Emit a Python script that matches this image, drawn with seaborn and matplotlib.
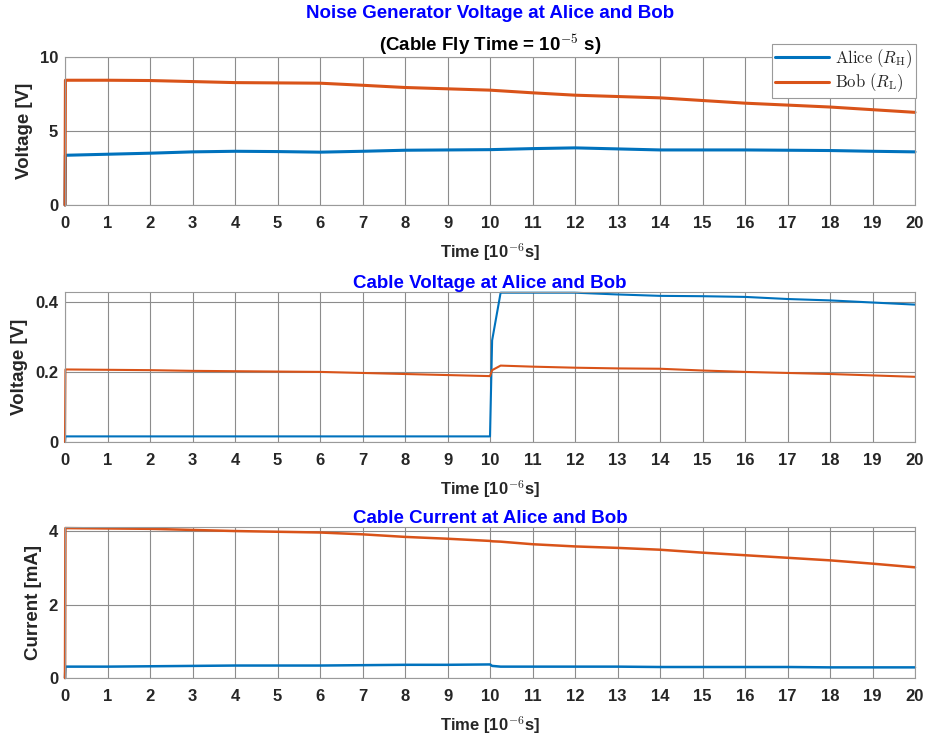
import matplotlib
matplotlib.use("Agg")
import matplotlib.pyplot as plt
import numpy as np
import pandas as pd
import seaborn as sns

sns.set_theme(style="whitegrid")
plt.rcParams['font.family'] = ['Liberation Sans', 'DejaVu Sans']
plt.rcParams['mathtext.fontset'] = 'cm'

# time axis in units of 1e-6 s
t_gen = [0, 0.01, 1, 2, 3, 4, 5, 6, 7, 8, 9, 10, 11, 12, 13, 14, 15, 16, 17, 18, 19, 20]
gen_alice = [0, 3.36, 3.43, 3.50, 3.59, 3.63, 3.61, 3.57, 3.63, 3.70, 3.72, 3.74,
             3.81, 3.86, 3.79, 3.72, 3.72, 3.72, 3.70, 3.68, 3.63, 3.59]
gen_bob = [0, 8.43, 8.43, 8.41, 8.34, 8.27, 8.25, 8.23, 8.09, 7.94, 7.85, 7.76,
           7.58, 7.42, 7.33, 7.24, 7.06, 6.88, 6.75, 6.62, 6.44, 6.26]

t_cable = [0, 0.01, 1, 2, 3, 4, 5, 6, 7, 8, 9, 10, 10.05, 10.25,
           11, 12, 13, 14, 15, 16, 17, 18, 19, 20]
volt_alice = [0, 0.016, 0.016, 0.016, 0.016, 0.016, 0.016, 0.016, 0.016, 0.016, 0.016, 0.016,
              0.29, 0.426, 0.426, 0.426, 0.421, 0.417, 0.416, 0.414, 0.408, 0.404, 0.398, 0.392]
volt_bob = [0, 0.207, 0.206, 0.205, 0.203, 0.202, 0.201, 0.200, 0.197, 0.194, 0.191, 0.188,
            0.205, 0.218, 0.215, 0.212, 0.210, 0.209, 0.204, 0.200, 0.197, 0.194, 0.190, 0.186]
curr_alice = [0, 0.31, 0.31, 0.32, 0.33, 0.34, 0.34, 0.34, 0.35, 0.36, 0.36, 0.37,
              0.33, 0.31, 0.31, 0.31, 0.31, 0.30, 0.30, 0.30, 0.30, 0.29, 0.29, 0.29]
curr_bob = [0, 4.09, 4.08, 4.07, 4.04, 4.01, 3.99, 3.97, 3.92, 3.85, 3.80, 3.74,
            3.73, 3.72, 3.65, 3.59, 3.55, 3.50, 3.42, 3.35, 3.28, 3.21, 3.12, 3.02]

colors = {"Alice": "#0072BD", "Bob": "#D95319"}
legend_labels = [r'$\mathrm{Alice}\ (R_{\mathrm{H}})$', r'$\mathrm{Bob}\ (R_{\mathrm{L}})$']


def to_frame(t, alice, bob):
    return pd.DataFrame({
        "time": list(t) + list(t),
        "value": list(alice) + list(bob),
        "who": ["Alice"] * len(t) + ["Bob"] * len(t),
    })


fig = plt.figure(figsize=(9.25, 7.36), dpi=100)
W, H = 925, 736
def px_axes(left, top, right, bottom):
    return fig.add_axes([left / W, 1 - bottom / H, (right - left) / W, (bottom - top) / H])

ax1 = px_axes(65, 57, 915, 205)
ax2 = px_axes(65, 292, 915, 442)
ax3 = px_axes(65, 527, 915, 678)

panels = [
    (ax1, to_frame(t_gen, gen_alice, gen_bob), 2.2, "Voltage [V]", [0, 5, 10], (0, 10), None),
    (ax2, to_frame(t_cable, volt_alice, volt_bob), 1.5, "Voltage [V]", [0, 0.2, 0.4],
     (0, 0.428), "Cable Voltage at Alice and Bob"),
    (ax3, to_frame(t_cable, curr_alice, curr_bob), 1.8, "Current [mA]", [0, 2, 4],
     (0, 4.12), "Cable Current at Alice and Bob"),
]

for ax, df, lw, ylab, yticks, ylim, title in panels:
    sns.lineplot(data=df, x="time", y="value", hue="who", palette=colors,
                 estimator=None, sort=False, linewidth=lw, ax=ax, legend=(ax is ax1),
                 clip_on=False)
    ax.set_xlim(0, 20)
    ax.set_ylim(*ylim)
    ax.set_xticks(range(0, 21))
    ax.set_yticks(yticks)
    ax.set_yticklabels([f"{v:g}" for v in yticks])
    ax.grid(True, color="#8c8c8c", linewidth=0.8, alpha=1)
    for s in ax.spines.values():
        s.set_color("#9a9a9a")
        s.set_linewidth(0.8)
    ax.tick_params(axis="x", labelsize=12, pad=8, length=0)
    ax.tick_params(axis="y", labelsize=12, pad=5, length=0)
    for lbl in ax.get_xticklabels() + ax.get_yticklabels():
        lbl.set_fontweight("bold")
        lbl.set_color("#262626")
    ax.set_xlabel(r"Time [10$^{\mathbf{-6}}$s]", fontsize=12, fontweight="bold",
                  labelpad=7, color="#262626")
    ax.set_ylabel(ylab, fontsize=13.5, fontweight="bold", labelpad=5, color="#262626")
    if title:
        ax.set_title(title, color="#0000FF", fontsize=13.5, fontweight="bold", pad=3)

fig.text(490 / W, 1 - 13 / H, "Noise Generator Voltage at Alice and Bob", color="#0000FF",
         fontsize=13.5, fontweight="bold", ha="center", va="center")
fig.text(490 / W, 1 - 45 / H, r"(Cable Fly Time = 10$^{\mathbf{-5}}$ s)", color="black",
         fontsize=13.5, fontweight="bold", ha="center", va="center")

handles, _ = ax1.get_legend_handles_labels()
leg = ax1.legend(handles, legend_labels, loc="upper right",
                 bbox_to_anchor=(916 / W, 1 - 44 / H), bbox_transform=fig.transFigure,
                 borderaxespad=0, fontsize=12, handlelength=3.2, handletextpad=0.4,
                 frameon=True, fancybox=False, edgecolor="#9a9a9a", framealpha=1,
                 borderpad=0.2, labelspacing=0.1)
leg.get_frame().set_linewidth(0.8)

fig.savefig("out.png", dpi=100)
